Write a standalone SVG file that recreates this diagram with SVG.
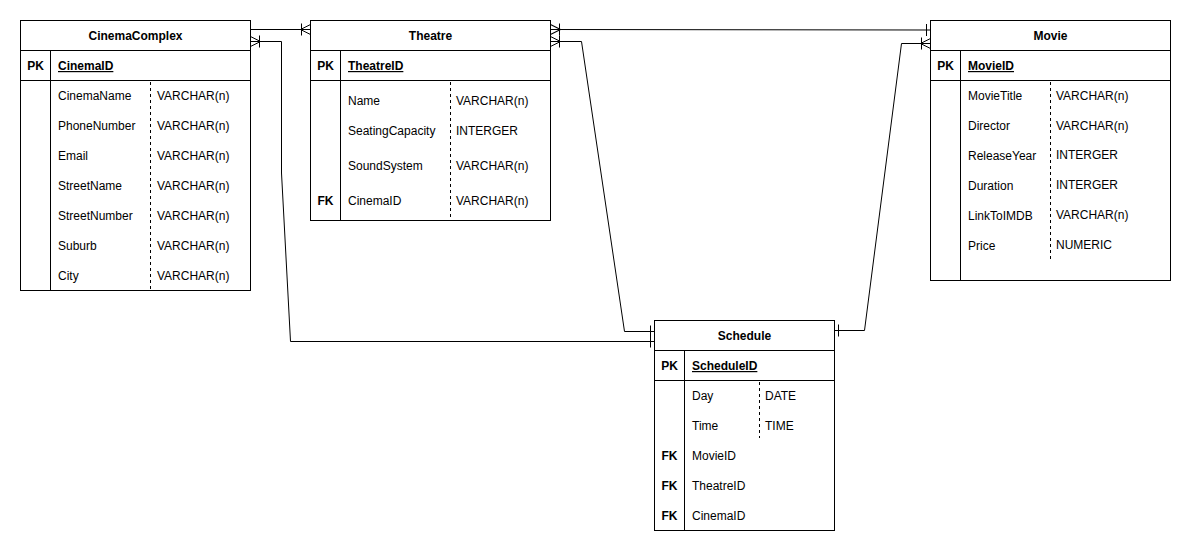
<svg xmlns="http://www.w3.org/2000/svg" width="1191" height="551" viewBox="0 0 1191 551">
  <style>
    .box { fill: #ffffff; stroke: #000000; stroke-width: 1; }
    .div { fill: none; stroke: #000000; stroke-width: 1; }
    .dash { fill: none; stroke: #000000; stroke-width: 1; stroke-dasharray: 3 3; }
    .edge { fill: none; stroke: #000000; stroke-width: 1; }
    text { font-family: "Liberation Sans", Arial, Helvetica, sans-serif; font-size: 12px; fill: #000000; }
    .title { font-weight: bold; text-anchor: middle; }
    .key { font-weight: bold; text-anchor: middle; }
    .pk { font-weight: bold; text-decoration: underline; }
  </style>
  <defs>
    <!-- one-or-many: crow's foot plus bar -->
    <marker id="oneMany" markerUnits="userSpaceOnUse" viewBox="-14 -8 16 16" refX="0" refY="0" markerWidth="16" markerHeight="16" orient="auto-start-reverse">
      <path d="M-10,0 L0,-5 M-10,0 L0,5 M-10,0 L0,0 M-9,-6 L-9,6" fill="none" stroke="#000" stroke-width="1"/>
    </marker>
    <!-- exactly one: single bar -->
    <marker id="one" markerUnits="userSpaceOnUse" viewBox="-14 -8 16 16" refX="0" refY="0" markerWidth="16" markerHeight="16" orient="auto-start-reverse">
      <path d="M-4,-6 L-4,6" fill="none" stroke="#000" stroke-width="1"/>
    </marker>
  </defs>

  <g id="connectors">
    <!-- CinemaComplex to Theatre -->
    <path class="edge" d="M250.5,29.5 L310.5,29.5" marker-end="url(#oneMany)"/>
    <!-- CinemaComplex to Schedule -->
    <path class="edge" d="M250.5,41.5 L281.5,41.5 L281.5,173 L290.5,341.5 L654.5,341.5" marker-start="url(#oneMany)" marker-end="url(#one)"/>
    <!-- Theatre to Movie -->
    <path class="edge" d="M550.5,29.5 L930.5,30" marker-start="url(#oneMany)" marker-end="url(#one)"/>
    <!-- Theatre to Schedule -->
    <path class="edge" d="M550.5,41.5 L581.5,41.5 L624.5,331.5 L654.5,331.5" marker-start="url(#oneMany)" marker-end="url(#one)"/>
    <!-- Movie to Schedule -->
    <path class="edge" d="M930.5,43.5 L901.5,43.5 L864.5,330.5 L834.5,330.5" marker-start="url(#oneMany)" marker-end="url(#one)"/>
  </g>

  <g id="CinemaComplex">
    <rect class="box" x="20.5" y="20.5" width="230" height="270"/>
    <path class="div" d="M20.5,50.5 H250.5 M20.5,80.5 H250.5 M50.5,50.5 V290.5"/>
    <path class="dash" d="M150.5,82 V290"/>
    <text class="title" x="135.5" y="40">CinemaComplex</text>
    <text class="key" x="35.5" y="70">PK</text>
    <text class="pk" x="58" y="70">CinemaID</text>
    <text x="58" y="100">CinemaName</text><text x="157" y="100">VARCHAR(n)</text>
    <text x="58" y="130">PhoneNumber</text><text x="157" y="130">VARCHAR(n)</text>
    <text x="58" y="160">Email</text><text x="157" y="160">VARCHAR(n)</text>
    <text x="58" y="190">StreetName</text><text x="157" y="190">VARCHAR(n)</text>
    <text x="58" y="220">StreetNumber</text><text x="157" y="220">VARCHAR(n)</text>
    <text x="58" y="250">Suburb</text><text x="157" y="250">VARCHAR(n)</text>
    <text x="58" y="280">City</text><text x="157" y="280">VARCHAR(n)</text>
  </g>

  <g id="Theatre">
    <rect class="box" x="310.5" y="20.5" width="240" height="200"/>
    <path class="div" d="M310.5,50.5 H550.5 M310.5,80.5 H550.5 M340.5,50.5 V220.5"/>
    <path class="dash" d="M450.5,82 V220"/>
    <text class="title" x="430.5" y="40">Theatre</text>
    <text class="key" x="325.5" y="70">PK</text>
    <text class="pk" x="348" y="70">TheatreID</text>
    <text x="348" y="105">Name</text><text x="456" y="105">VARCHAR(n)</text>
    <text x="348" y="135">SeatingCapacity</text><text x="456" y="135">INTERGER</text>
    <text x="348" y="170">SoundSystem</text><text x="456" y="170">VARCHAR(n)</text>
    <text class="key" x="325.5" y="205">FK</text>
    <text x="348" y="205">CinemaID</text><text x="456" y="205">VARCHAR(n)</text>
  </g>

  <g id="Movie">
    <rect class="box" x="930.5" y="20.5" width="240" height="260"/>
    <path class="div" d="M930.5,50.5 H1170.5 M930.5,80.5 H1170.5 M960.5,50.5 V280.5"/>
    <path class="dash" d="M1050.5,82 V260"/>
    <text class="title" x="1050.5" y="40">Movie</text>
    <text class="key" x="945.5" y="70">PK</text>
    <text class="pk" x="968" y="70">MovieID</text>
    <text x="968" y="100">MovieTitle</text><text x="1056" y="100">VARCHAR(n)</text>
    <text x="968" y="130">Director</text><text x="1056" y="130">VARCHAR(n)</text>
    <text x="968" y="160">ReleaseYear</text><text x="1056" y="159">INTERGER</text>
    <text x="968" y="190">Duration</text><text x="1056" y="189">INTERGER</text>
    <text x="968" y="220">LinkToIMDB</text><text x="1056" y="219">VARCHAR(n)</text>
    <text x="968" y="250">Price</text><text x="1056" y="249">NUMERIC</text>
  </g>

  <g id="Schedule">
    <rect class="box" x="654.5" y="320.5" width="180" height="210"/>
    <path class="div" d="M654.5,350.5 H834.5 M654.5,380.5 H834.5 M684.5,350.5 V530.5"/>
    <path class="dash" d="M759.5,382 V438"/>
    <text class="title" x="744.5" y="340">Schedule</text>
    <text class="key" x="669.5" y="370">PK</text>
    <text class="pk" x="692" y="370">ScheduleID</text>
    <text x="692" y="400">Day</text><text x="765" y="400">DATE</text>
    <text x="692" y="430">Time</text><text x="765" y="430">TIME</text>
    <text class="key" x="669.5" y="460">FK</text><text x="692" y="460">MovieID</text>
    <text class="key" x="669.5" y="490">FK</text><text x="692" y="490">TheatreID</text>
    <text class="key" x="669.5" y="520">FK</text><text x="692" y="520">CinemaID</text>
  </g>
</svg>
